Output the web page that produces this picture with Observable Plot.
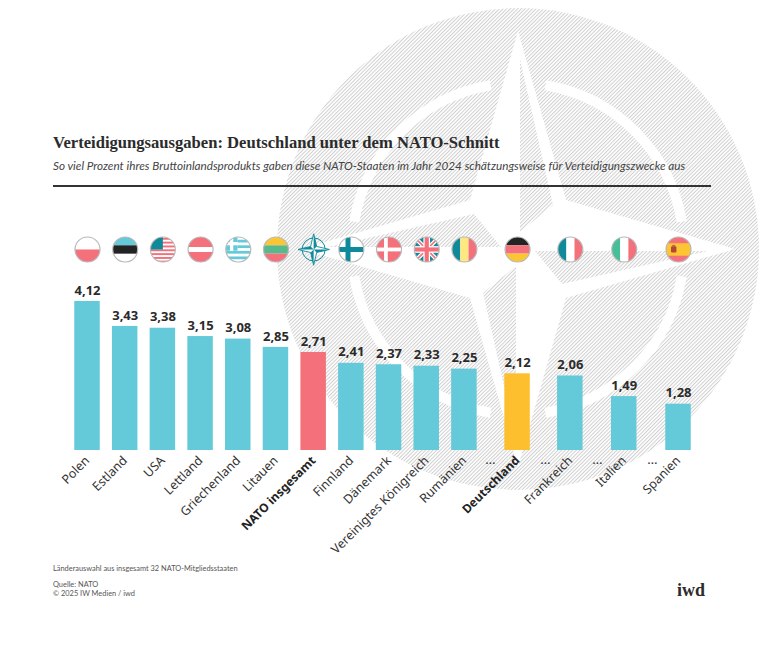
<!DOCTYPE html>
<html lang="de"><head><meta charset="utf-8">
<script src="https://cdn.jsdelivr.net/npm/d3@7"></script>
<script src="https://cdn.jsdelivr.net/npm/@observablehq/plot@0.6"></script>
<style>
html,body{margin:0;padding:0;background:#fff;}
#page{position:relative;width:768px;height:664px;overflow:hidden;color:#333;}
#chart{position:absolute;left:0;top:0;}
#chart svg{display:block;background:transparent;}
.t{position:absolute;white-space:nowrap;line-height:1;}
#title{left:53px;top:133px;font:bold 16.6px "Liberation Serif",serif;letter-spacing:0;color:#2b2b2b;}
#sub{left:53px;top:158px;font:italic 11.72px Lato,"Noto Sans",sans-serif;color:#444;}
#rule{position:absolute;left:53px;top:185px;width:658px;height:2.4px;background:#333;}
#note{left:53px;top:564px;font:7.4px Lato,"Noto Sans",sans-serif;color:#555;}
#src1{left:53px;top:580px;font:7.4px Lato,"Noto Sans",sans-serif;color:#555;}
#src2{left:53px;top:589px;font:7.4px Lato,"Noto Sans",sans-serif;color:#555;}
#logo{left:677px;top:580px;font:bold 18px "Liberation Serif",serif;color:#2b2b2b;}
</style></head><body>
<div id="page">
<div id="chart"></div>
<div class="t" id="title">Verteidigungsausgaben: Deutschland unter dem NATO-Schnitt</div>
<div class="t" id="sub">So viel Prozent ihres Bruttoinlandsprodukts gaben diese NATO-Staaten im Jahr 2024 schätzungsweise für Verteidigungszwecke aus</div>
<div id="rule"></div>
<div class="t" id="note">Länderauswahl aus insgesamt 32 NATO-Mitgliedsstaaten</div>
<div class="t" id="src1">Quelle: NATO</div>
<div class="t" id="src2">© 2025 IW Medien / iwd</div>
<div class="t" id="logo">iwd</div>
</div>
<script>
const countries = ["Polen","Estland","USA","Lettland","Griechenland","Litauen","NATO insgesamt","Finnland","Dänemark","Vereinigtes Königreich","Rumänien","Deutschland","Frankreich","Italien","Spanien"];
const values = [4.12,3.43,3.38,3.15,3.08,2.85,2.71,2.41,2.37,2.33,2.25,2.12,2.06,1.49,1.28];
const slots = [0,1,2,3,4,5,6,7,8,9,10,11.41,12.81,14.24,15.68];
const gapSlots = [10.69,12.15,13.53,14.99];
const highlight = {"NATO insgesamt":"#f4707b","Deutschland":"#fdbf2e"};
const barColor = "#64c9d9";

const teal="#0f8a9b", sky="#64c9d9", red="#f4707b", yel="#fcc533", pale="#fde882", blk="#232323", grn="#46bf98", lit="#58b98d";
const wrap = s => "data:image/svg+xml;utf8," + encodeURIComponent(`<svg xmlns="http://www.w3.org/2000/svg" viewBox="0 0 30 30" width="60" height="60"><rect width="30" height="30" fill="#fff"/>${s}</svg>`);
const h = (y,hh,c) => `<rect x="0" y="${y}" width="30" height="${hh}" fill="${c}"/>`;
const v = (x,w,c) => `<rect x="${x}" y="0" width="${w}" height="30" fill="${c}"/>`;
const usStripes = [1,5.6,10.2,14.8,19.4,24,28.4].map(y=>h(y,2.3,red)).join("");
const flags = {
 "Polen": h(15,15,red),
 "Estland": h(0,10,sky)+h(10,10,blk),
 "USA": usStripes+`<rect width="15" height="15" fill="${teal}"/>`,
 "Lettland": h(0,12,red)+h(18,12,red),
 "Griechenland": [3.3,10,16.7,23.4].map(y=>h(y,3.3,sky)).join("")+`<rect width="14" height="16.5" fill="#fff"/><rect x="0" y="0" width="5" height="6" fill="${sky}"/><rect x="9" y="0" width="5" height="6" fill="${sky}"/><rect x="0" y="10" width="5" height="6.5" fill="${sky}"/><rect x="9" y="10" width="5" height="6.5" fill="${sky}"/>`,
 "Litauen": h(0,10,yel)+h(10,10,lit)+h(20,10,red),
 "Finnland": v(8,6,teal)+h(12,6,teal),
 "Dänemark": `<rect width="30" height="30" fill="${red}"/>`+v(9,4.5,"#fff")+h(12.7,4.6,"#fff"),
 "Vereinigtes Königreich": `<rect width="30" height="30" fill="${teal}"/><path d="M0 0L30 30M30 0L0 30" stroke="#fff" stroke-width="5"/><path d="M0 0L30 30M30 0L0 30" stroke="${red}" stroke-width="2"/>`+v(11,8,"#fff")+h(11,8,"#fff")+v(12.5,5,red)+h(12.5,5,red),
 "Rumänien": v(0,10,teal)+v(10,10,pale)+v(20,10,red),
 "Deutschland": h(0,10,blk)+h(10,10,red)+h(20,10,yel),
 "Frankreich": v(0,10,teal)+v(20,10,red),
 "Italien": v(0,10,grn)+v(20,10,red),
 "Spanien": h(0,30,red)+h(7.5,15,yel)+`<rect x="6" y="11" width="6.5" height="7.5" rx="1.5" fill="#b5453a"/><rect x="7.5" y="9.5" width="3.5" height="2" fill="#a8752a"/>`
};
const natoBadge = "data:image/svg+xml;utf8," + encodeURIComponent(`<svg xmlns="http://www.w3.org/2000/svg" viewBox="-16 -16 32 32" width="64" height="64"><circle r="11.5" fill="none" stroke="${teal}" stroke-width="1"/><path d="M0 -16L3 -3L16 0L3 3L0 16L-3 3L-16 0L-3 -3Z" fill="#fff" stroke="${teal}" stroke-width=".9"/><path d="M0 -16L3 -3L0 0ZM16 0L3 3L0 0ZM0 16L-3 3L0 0ZM-16 0L-3 -3L0 0Z" fill="${teal}"/></svg>`);

const rows = countries.map((name,i)=>({name,value:values[i],slot:slots[i],
  label:values[i].toFixed(2).replace(".",","),
  src: name==="NATO insgesamt" ? natoBadge : wrap(flags[name])}));

const halfBar = 0.338, flagLevel = 5.557;
const labelFont = "'Noto Sans', sans-serif";

function watermark(){
  const cx=518, cy=249, R=241;
  const rot = (p,k)=>{let [x,y]=p;for(let i=0;i<k;i++){[x,y]=[-y,x];}return [cx+x,cy+y];};
  const star=[[0,-218],[48,-49],[217,0],[48,49],[0,218],[-48,49],[-217,0],[-48,-49]].map(([x,y])=>[cx+x,cy+y]);
  const half=[[2,-190],[35,-44],[2,-17]];
  const tri=[0,1,2,3].map(k=>"M"+half.map(p=>rot(p,k).join(",")).join("L")+"Z").join("");
  const arcR=166, a0=9.5*Math.PI/180, a1=80.5*Math.PI/180;
  const arcs=[0,1,2,3].map(k=>{
    const s=rot([arcR*Math.sin(a0),-arcR*Math.cos(a0)],k), e=rot([arcR*Math.sin(a1),-arcR*Math.cos(a1)],k);
    return `M${s}A${arcR},${arcR} 0 0 1 ${e}`;}).join("");
  const g=document.createElementNS("http://www.w3.org/2000/svg","g");
  g.innerHTML=`<defs><pattern id="hatch" patternUnits="userSpaceOnUse" width="2.6" height="2.6" patternTransform="rotate(45)"><rect width="2.6" height="2.6" fill="#fff"/><rect x="0" width="1" height="2.6" fill="#cfcfcf"/></pattern></defs>
  <circle cx="${cx}" cy="${cy}" r="${R}" fill="url(#hatch)"/>
  <path d="${arcs}" fill="none" stroke="#fff" stroke-width="10"/>
  <path d="M${star.join("L")}Z" fill="#fff"/>
  <path d="${tri}" fill="url(#hatch)"/>`;
  return g;
}

const plot = Plot.plot({
  width:768, height:664,
  marginTop:0, marginRight:0, marginBottom:214, marginLeft:0,
  x:{type:"linear",domain:[0,15.68],range:[87,678],axis:null},
  y:{domain:[0,12.44],range:[450,0],axis:null},
  style:{background:"transparent",overflow:"visible"},
  marks:[
    watermark,
    Plot.rectY(rows,{x1:d=>d.slot-halfBar,x2:d=>d.slot+halfBar,y1:0,y2:"value",
      fill:d=>highlight[d.name]||barColor}),
    Plot.text(rows,{x:"slot",y:"value",text:"label",dy:-11,fontSize:13,fontWeight:700,fill:"#2b2b2b",fontFamily:"'Noto Sans',sans-serif"}),
    Plot.text(rows.filter(d=>!highlight[d.name]),{x:"slot",y:0,text:"name",rotate:-45,textAnchor:"end",dx:0,dy:8,fontSize:12.5,fill:"#333",fontFamily:labelFont}),
    Plot.text(rows.filter(d=>highlight[d.name]),{x:"slot",y:0,text:"name",rotate:-45,textAnchor:"end",dx:0,dy:8,fontSize:12,fontWeight:700,fill:"#222",fontFamily:labelFont}),
    Plot.text(gapSlots,{x:d=>d,y:0,text:()=>"…",dy:9,fontSize:13,fill:"#333",fontFamily:labelFont}),
    Plot.image(rows.filter(d=>d.name!=="NATO insgesamt"),{x:"slot",y:()=>flagLevel,src:"src",r:12.5,preserveAspectRatio:"xMidYMid slice"}),
    Plot.dot(rows.filter(d=>d.name!=="NATO insgesamt"),{x:"slot",y:()=>flagLevel,r:12.5,stroke:"#b9b9b9",strokeWidth:1.2,fill:"none"}),
    Plot.image(rows.filter(d=>d.name==="NATO insgesamt"),{x:"slot",y:()=>flagLevel,src:"src",width:32,height:32})
  ]
});
document.getElementById("chart").append(plot);
</script>
</body></html>
